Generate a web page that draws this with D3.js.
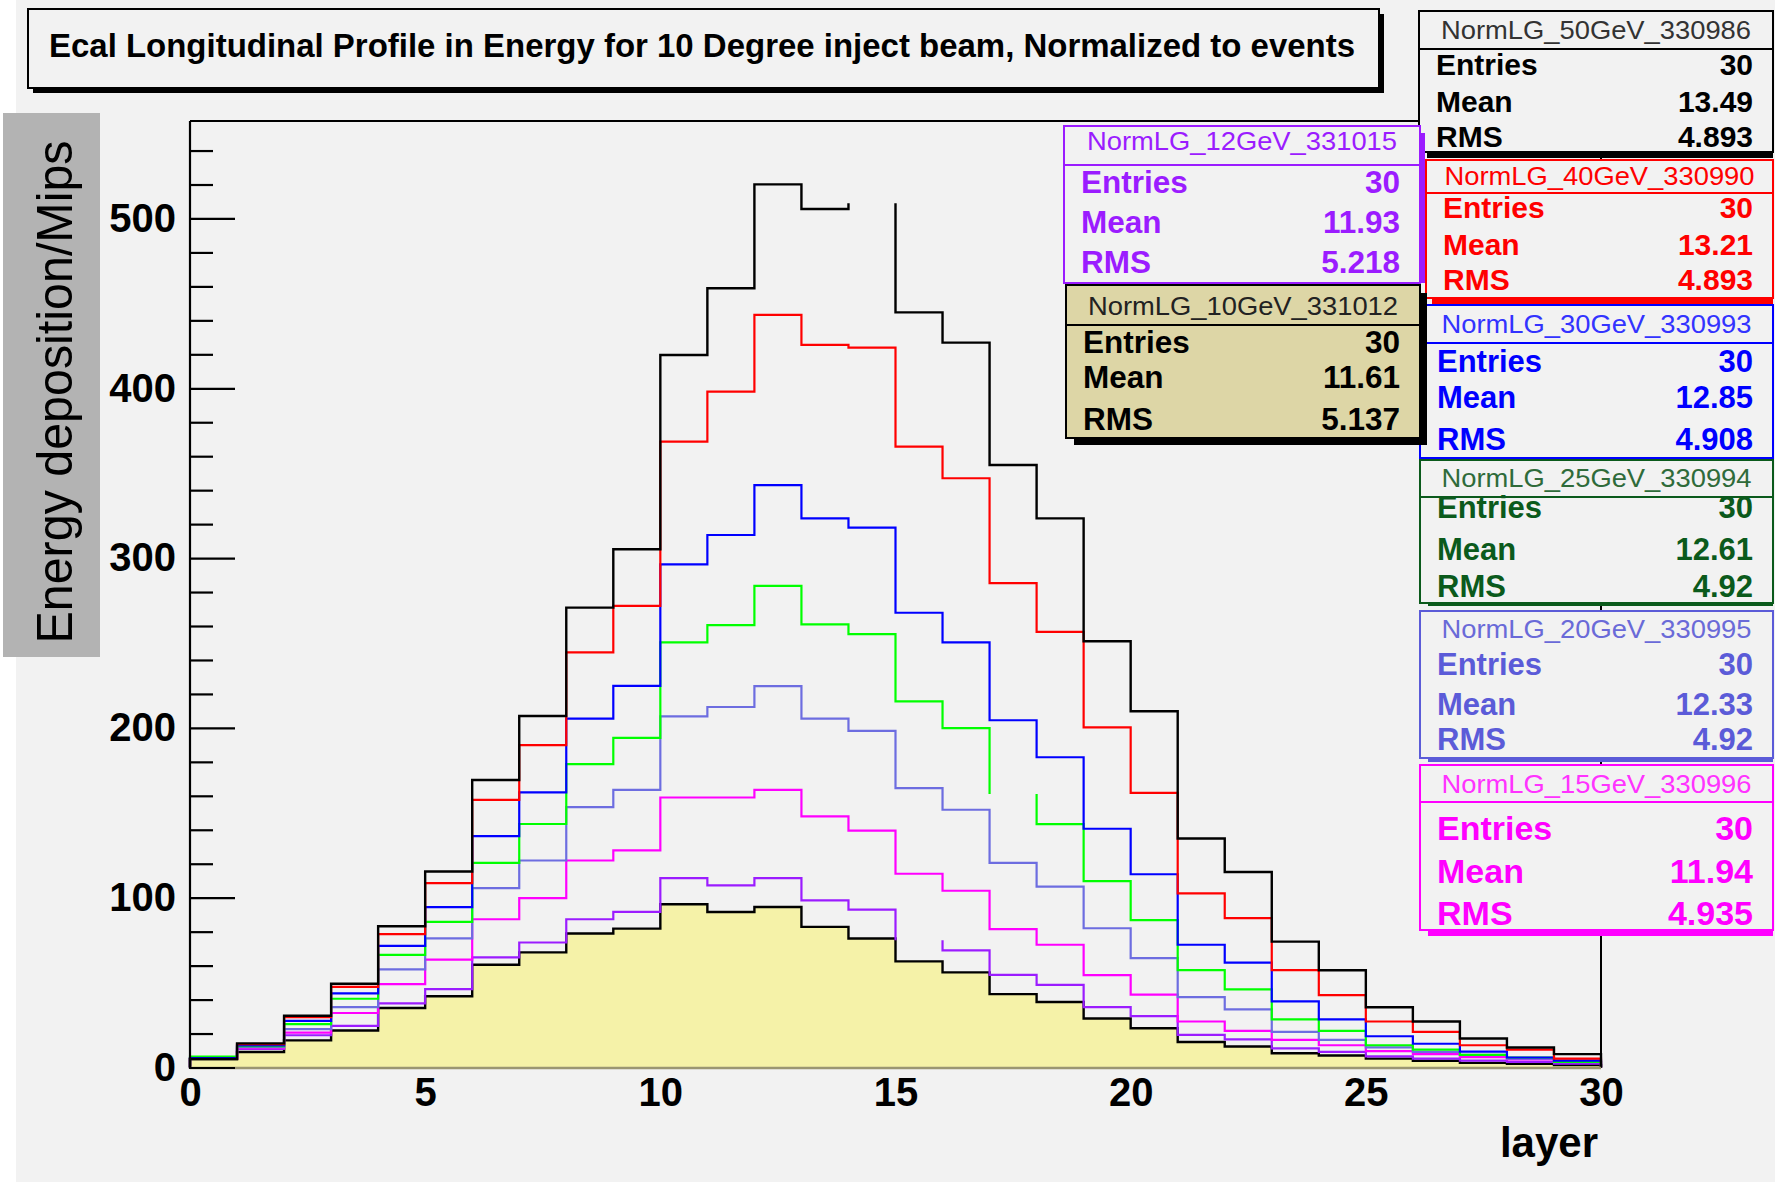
<!DOCTYPE html>
<html>
<head>
<meta charset="utf-8">
<script src="https://cdn.jsdelivr.net/npm/d3@7"></script>
<style>
  html, body { margin: 0; padding: 0; background: #ffffff; }
  svg { display: block; font-family: "Liberation Sans", Arial, Helvetica, sans-serif; }
</style>
</head>
<body>
<svg id="canvas" width="1775" height="1182"></svg>
<script>
// ---- binning and axis labels ----
const layerBins = d3.range(30);               // one bin per ECAL layer, [i, i+1)
const xTickValues = [0, 5, 10, 15, 20, 25, 30];
const yTickValues = [0, 100, 200, 300, 400, 500];
const yMinorValues = [20, 40, 60, 80, 120, 140, 160, 180, 220, 240, 260, 280,
                      320, 340, 360, 380, 420, 440, 460, 480, 520, 540];

// ---- energy deposition per layer (Mips, normalised to events) ----
const e50GeV = [5, 14.2, 30.5, 49.3, 83.2, 115.4, 169.3, 207, 270.8, 305.2,
                419.6, 458.9, 520.1, 505.6, 509, 444.7, 426.9, 354.8, 323.4, 251,
                209.8, 134.9, 115.1, 74.1, 57.3, 35.5, 27.1, 17.1, 11.8, 7.9];
const e40GeV = [5, 13.8, 29.7, 47.5, 78.6, 108.6, 157.6, 189.8, 244.5, 271.9,
                368.6, 398, 443.2, 425.5, 423.9, 365.6, 347, 285.3, 256.5, 200.3,
                161.7, 102.5, 88, 57.3, 42.6, 27.1, 21, 13.1, 10.5, 5.2];
const e30GeV = [5.5, 13, 27.5, 43.6, 71.6, 94.4, 136.2, 162, 205.5, 224.8,
                296.3, 313.6, 343, 323.4, 317.9, 267.8, 250.4, 204.5, 182.7, 140.6,
                113.8, 72.3, 61.8, 38.9, 28.4, 18.4, 14, 9.3, 5.9, 4];
const e25GeV = [6.4, 12.5, 25.6, 40.5, 66.3, 85.8, 120.5, 143.4, 178.7, 194.1,
                250.4, 260.5, 283.6, 261, 255.2, 215.6, 199.9, 161, 143.3, 109.7,
                86.8, 57.3, 46, 28.4, 21.6, 13.1, 10.5, 7.4, 5.9, 3.3];
const e20GeV = [5.5, 12, 22.6, 35.5, 57.8, 76, 105.6, 121.9, 153.3, 163.5,
                206.8, 212.3, 224.6, 205.5, 198.2, 164.5, 151.8, 120.5, 106.5, 82,
                64.4, 41.5, 34.2, 21, 16.3, 11.8, 9.2, 7.4, 5.2, 4];
const e15GeV = [5, 11.4, 20.5, 32.1, 49.1, 63.5, 87.3, 99.8, 121.9, 127.9,
                159, 159, 163.5, 147.9, 139.5, 114.1, 104.1, 81.5, 72.3, 54.4,
                42.9, 27.1, 21.6, 16.3, 13.1, 9.7, 7.9, 6.1, 4.8, 3.3];
const e12GeV = [5, 11, 19, 24.5, 37.8, 46.2, 64.8, 73.6, 87.3, 91.6,
                111.5, 107.2, 111.5, 98.4, 93, 75, 69, 54.6, 48.6, 35.5,
                30.2, 19.2, 16.6, 11.3, 9.2, 6.6, 5.2, 4, 3.3, 2.2];
const e10GeV = [5, 9.1, 16, 21.8, 35, 42, 60.5, 67.8, 78.9, 81.8,
                96.1, 91.6, 94.5, 82.8, 76, 62.5, 56, 43.2, 38.6, 28.9,
                23.1, 15, 12.4, 8.4, 7.1, 5.2, 4, 2.7, 2.2, 1.4];

// ---- run statistics ----
const runNames   = ["NormLG_50GeV_330986", "NormLG_40GeV_330990", "NormLG_30GeV_330993",
                    "NormLG_25GeV_330994", "NormLG_20GeV_330995", "NormLG_15GeV_330996",
                    "NormLG_12GeV_331015", "NormLG_10GeV_331012"];
const runEntries = ["30", "30", "30", "30", "30", "30", "30", "30"];
const runMeans   = ["13.49", "13.21", "12.85", "12.61", "12.33", "11.94", "11.93", "11.61"];
const runRms     = ["4.893", "4.893", "4.908", "4.92", "4.92", "4.935", "5.218", "5.137"];

const titleText = "Ecal Longitudinal Profile in Energy for 10 Degree inject beam, Normalized to events";
const yTitle = "Energy deposition/Mips";
const xTitle = "layer";

// ---------------------------------------------------------------------------
const svg = d3.select("#canvas");
const FONT = '"Liberation Sans", Arial, Helvetica, sans-serif';

// pad background
svg.append("rect").attr("x", 16).attr("y", 0).attr("width", 1759).attr("height", 1182)
   .attr("fill", "#f2f2f2");

// frame geometry
const fx0 = 190, fx1 = 1601, fyTop = 121, fyBase = 1067.5;
const x = d3.scaleLinear().domain([0, 30]).range([fx0, fx1]);
const y = d3.scaleLinear().domain([0, 557.4]).range([fyBase, fyTop]);

// histograms, drawn bottom-up; one bin in some series has no top segment drawn
const series = [
  { v: e10GeV, color: "#000000", width: 2.4, fill: "#f5f2a8" },
  { v: e12GeV, color: "#9b1cff", width: 2.2, skip: 15 },
  { v: e15GeV, color: "#ff00ff", width: 2.2 },
  { v: e20GeV, color: "#6d6de0", width: 2.2 },
  { v: e25GeV, color: "#00ff00", width: 2.2, skip: 17 },
  { v: e30GeV, color: "#0000ff", width: 2.2 },
  { v: e40GeV, color: "#ff0000", width: 2.2 },
  { v: e50GeV, color: "#000000", width: 2.4, skip: 14 }
];

const plot = svg.append("g");

series.forEach(s => {
  if (s.fill) {
    const pts = layerBins.map(i => [i, s.v[i]]).concat([[30, s.v[29]]]);
    const area = d3.area()
      .x(d => x(d[0])).y0(y(0)).y1(d => y(d[1]))
      .curve(d3.curveStepAfter);
    plot.append("path").attr("d", area(pts)).attr("fill", s.fill).attr("stroke", "none");
  }
  const p = d3.path();
  p.moveTo(x(0), y(0));
  layerBins.forEach(i => {
    p.lineTo(x(i), y(s.v[i]));
    if (s.skip === i) p.moveTo(x(i + 1), y(s.v[i]));
    else p.lineTo(x(i + 1), y(s.v[i]));
  });
  p.lineTo(x(30), y(0));
  plot.append("path").attr("d", p.toString())
    .attr("fill", "none").attr("stroke", s.color)
    .attr("stroke-width", s.width).attr("stroke-linejoin", "miter");
});

// frame
svg.append("line").attr("x1", fx0).attr("x2", fx1).attr("y1", fyTop).attr("y2", fyTop)
   .attr("stroke", "#000").attr("stroke-width", 2);
svg.append("line").attr("x1", fx1).attr("x2", fx1).attr("y1", fyTop).attr("y2", fyBase)
   .attr("stroke", "#000").attr("stroke-width", 2);
svg.append("line").attr("x1", fx0).attr("x2", fx1).attr("y1", fyBase + 0.5).attr("y2", fyBase + 0.5)
   .attr("stroke", "#9a9672").attr("stroke-width", 2.5);
svg.append("line").attr("x1", fx0).attr("x2", fx0).attr("y1", fyTop).attr("y2", fyBase + 1.5)
   .attr("stroke", "#000").attr("stroke-width", 2.2);

// y ticks (pointing into the frame)
const yMajor = d3.axisRight(y).tickValues(yTickValues).tickSize(45).tickFormat("");
const yMinor = d3.axisRight(y).tickValues(yMinorValues).tickSize(23).tickFormat("");
[yMajor, yMinor].forEach(ax => {
  const g = svg.append("g").attr("transform", `translate(${fx0},0)`).call(ax);
  g.select(".domain").remove();
  g.selectAll(".tick line").attr("stroke", "#000").attr("stroke-width", 2.2);
});

// y tick labels
const yLab = svg.append("g").attr("transform", `translate(${fx0},0)`)
  .call(d3.axisLeft(y).tickValues(yTickValues).tickSize(0).tickPadding(14));
yLab.select(".domain").remove();
yLab.selectAll("text").attr("font-family", FONT).attr("font-size", 40)
  .attr("font-weight", "bold").attr("fill", "#000");

// x tick labels
const xLab = svg.append("g").attr("transform", `translate(0,${fyBase})`)
  .call(d3.axisBottom(x).tickValues(xTickValues).tickSize(0).tickPadding(10));
xLab.select(".domain").remove();
xLab.selectAll("text").attr("font-family", FONT).attr("font-size", 40)
  .attr("font-weight", "bold").attr("fill", "#000");

// x title
svg.append("text").attr("x", 1598).attr("y", 1157).attr("text-anchor", "end")
  .attr("font-family", FONT).attr("font-size", 42).attr("font-weight", "bold")
  .attr("fill", "#000").text(xTitle);

// y title on a grey band
svg.append("rect").attr("x", 3).attr("y", 113).attr("width", 97).attr("height", 544)
  .attr("fill", "#b3b3b3");
svg.append("text")
  .attr("transform", "translate(72,392) rotate(-90)")
  .attr("text-anchor", "middle")
  .attr("font-family", FONT).attr("font-size", 50)
  .attr("textLength", 503).attr("lengthAdjust", "spacingAndGlyphs")
  .attr("fill", "#000").text(yTitle);

// title pave with shadow
svg.append("rect").attr("x", 33).attr("y", 14).attr("width", 1351).attr("height", 79).attr("fill", "#000");
svg.append("rect").attr("x", 28).attr("y", 9).attr("width", 1351).attr("height", 79)
  .attr("fill", "#f2f2f2").attr("stroke", "#000").attr("stroke-width", 2);
svg.append("text").attr("x", 702).attr("y", 57).attr("text-anchor", "middle")
  .attr("font-family", FONT).attr("font-size", 33).attr("font-weight", "bold")
  .attr("textLength", 1306).attr("lengthAdjust", "spacingAndGlyphs")
  .attr("fill", "#000").text(titleText);

// statistics boxes
const statLayout = [
  { k: 0, x: 1419, y: 11,  w: 354, h: 141, sep: 38, hdr: 28, rows: [64, 101, 136], fs: 30,
    stroke: "#000", text: "#000", head: "#333", fill: "#f2f2f2", sb: [1427, 152, 346, 6] },
  { k: 1, x: 1426, y: 160, w: 347, h: 138, sep: 33, hdr: 25, rows: [58, 95, 130], fs: 30,
    stroke: "#ff0000", text: "#ff0000", head: "#ff0000", fill: "#f2f2f2", sb: [1432, 298, 341, 7] },
  { k: 2, x: 1420, y: 305, w: 353, h: 153, sep: 38, hdr: 28, rows: [67, 103, 145], fs: 31,
    stroke: "#0000ff", text: "#0000ff", head: "#3333ff", fill: "#f2f2f2" },
  { k: 3, x: 1420, y: 460, w: 353, h: 143, sep: 37, hdr: 27, rows: [58, 100, 137], fs: 31,
    stroke: "#0b5a1c", text: "#0b5a1c", head: "#2f6b3a", fill: "#f2f2f2", sb: [1428, 601, 345, 5] },
  { k: 4, x: 1420, y: 611, w: 353, h: 147, sep: null, hdr: 27, rows: [64, 104, 139], fs: 31,
    stroke: "#5b5bd8", text: "#5b5bd8", head: "#6a6ad8", fill: "#f2f2f2", sb: [1428, 757, 345, 5] },
  { k: 5, x: 1420, y: 765, w: 353, h: 165, sep: 37, hdr: 28, rows: [75, 118, 160], fs: 34,
    stroke: "#ff00ff", text: "#ff00ff", head: "#ff33ff", fill: "#f2f2f2", sb: [1428, 929, 345, 7] },
  { k: 6, x: 1064, y: 126, w: 356, h: 157, sep: 39, hdr: 24, rows: [67, 107, 147], fs: 31.5,
    stroke: "#9b1cff", text: "#9b1cff", head: "#9b1cff", fill: "#f2f2f2", sr: [1418, 133, 7, 150] },
  { k: 7, x: 1066, y: 285, w: 354, h: 153, sep: 40, hdr: 30, rows: [68, 103, 145], fs: 31.5,
    stroke: "#000", text: "#000", head: "#222", fill: "#ddd6a6",
    sb: [1074, 437, 353, 8], sr: [1419, 293, 8, 152] }
];

const boxes = svg.append("g");
statLayout.forEach(b => {
  const g = boxes.append("g");
  if (b.sb) g.append("rect").attr("x", b.sb[0]).attr("y", b.sb[1]).attr("width", b.sb[2]).attr("height", b.sb[3]).attr("fill", b.stroke);
  if (b.sr) g.append("rect").attr("x", b.sr[0]).attr("y", b.sr[1]).attr("width", b.sr[2]).attr("height", b.sr[3]).attr("fill", b.stroke);
  g.append("rect").attr("x", b.x).attr("y", b.y).attr("width", b.w).attr("height", b.h)
    .attr("fill", b.fill).attr("stroke", b.stroke).attr("stroke-width", 2);
  if (b.sep !== null) {
    g.append("line").attr("x1", b.x).attr("x2", b.x + b.w)
      .attr("y1", b.y + b.sep).attr("y2", b.y + b.sep)
      .attr("stroke", b.stroke).attr("stroke-width", 2);
  }
  g.append("text").attr("x", b.x + b.w / 2).attr("y", b.y + b.hdr)
    .attr("text-anchor", "middle").attr("font-family", FONT).attr("font-size", 26)
    .attr("textLength", 310).attr("lengthAdjust", "spacingAndGlyphs")
    .attr("fill", b.head).text(runNames[b.k]);
  const labels = ["Entries", "Mean", "RMS"];
  const vals = [runEntries[b.k], runMeans[b.k], runRms[b.k]];
  labels.forEach((lab, j) => {
    g.append("text").attr("x", b.x + 17).attr("y", b.y + b.rows[j])
      .attr("font-family", FONT).attr("font-size", b.fs).attr("font-weight", "bold")
      .attr("fill", b.text).text(lab);
    g.append("text").attr("x", b.x + b.w - 20).attr("y", b.y + b.rows[j])
      .attr("text-anchor", "end")
      .attr("font-family", FONT).attr("font-size", b.fs).attr("font-weight", "bold")
      .attr("fill", b.text).text(vals[j]);
  });
});
</script>
</body>
</html>
